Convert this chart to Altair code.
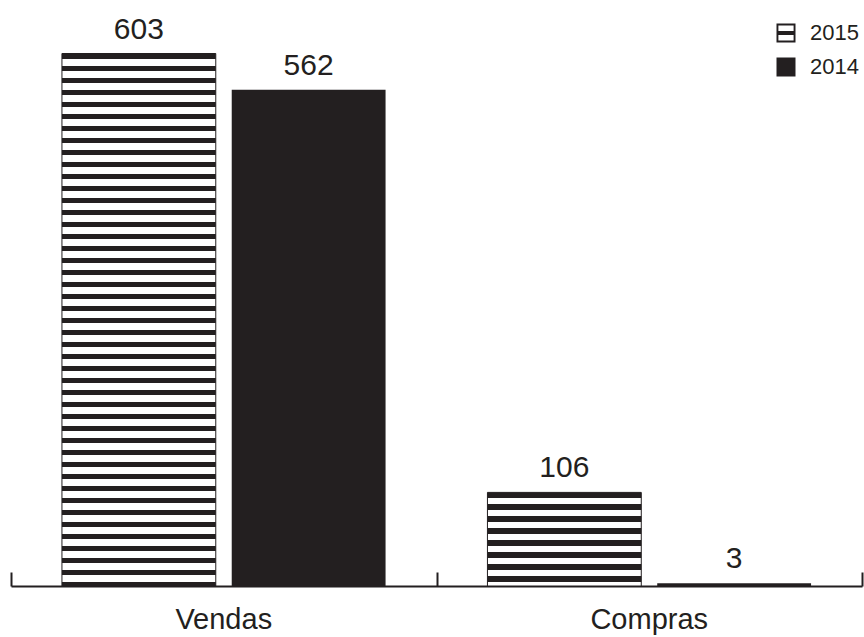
import altair as alt
import pandas as pd

# Valores por categoria e ano
categorias = ["Vendas", "Vendas", "Compras", "Compras"]
anos = ["2015", "2014", "2015", "2014"]
valores = [603, 562, 106, 3]

ordem_categorias = ["Vendas", "Compras"]
ordem_anos = ["2015", "2014"]

df = pd.DataFrame({"Categoria": categorias, "Ano": anos, "Valor": valores})

INK = "#231f20"
FONT = "Liberation Sans"
W, H = 851, 574
Y_MAX = 650
PX_PER_UNIT = H / Y_MAX

# legend symbol for the hatched series: framed square with a thick middle bar
HATCH_SYMBOL = (
    "M-1,-1L1,-1L1,1L-1,1Z"
    "M-0.8,-0.8L-0.8,-0.22L0.8,-0.22L0.8,-0.8Z"
    "M-0.8,0.22L-0.8,0.8L0.8,0.8L0.8,0.22Z"
)


def hatch(value, period=12.0, ink=5.5):
    """Horizontal stripe fill (fixed pixel period) for a bar of the given value."""
    h = value * PX_PER_UNIT
    stops = []
    k = 0
    while k * period < h:
        a = k * period / h
        b = min((k * period + ink) / h, 1.0)
        c = min((k + 1) * period / h, 1.0)
        stops += [
            alt.GradientStop(offset=a, color=INK),
            alt.GradientStop(offset=b, color=INK),
            alt.GradientStop(offset=b, color="white"),
            alt.GradientStop(offset=c, color="white"),
        ]
        k += 1
    return alt.LinearGradient(gradient="linear", stops=stops, x1=0, y1=0, x2=0, y2=1)


x_scale = alt.Scale(domain=ordem_categorias, paddingInner=0, paddingOuter=0)
off_scale = alt.Scale(domain=ordem_anos, paddingInner=0.094, paddingOuter=0.3)
y_enc = alt.Y("Valor:Q", scale=alt.Scale(domain=[0, Y_MAX]), axis=None)
off_enc = alt.XOffset("Ano:N", scale=off_scale)

bottom_axis = alt.Axis(
    title=None, labelAngle=0, labelFontSize=29, labelFont=FONT, labelColor=INK,
    labelPadding=19, ticks=False, grid=False, domainColor=INK, domainWidth=2,
)
tick_axis = alt.Axis(
    orient="top", offset=-H, title=None, labels=False, domain=False, grid=False,
    ticks=True, tickBand="extent", tickSize=14, tickWidth=2, tickColor=INK,
)

base = alt.Chart(df)

solid = base.transform_filter(alt.datum.Ano == "2014").mark_bar(
    color=INK
).encode(
    x=alt.X("Categoria:N", scale=x_scale, axis=bottom_axis),
    xOffset=off_enc,
    y=y_enc,
)

hatched_layers = []
for cat in ordem_categorias:
    v = df[(df.Categoria == cat) & (df.Ano == "2015")].Valor.iloc[0]
    hatched_layers.append(
        base.transform_filter(
            (alt.datum.Ano == "2015") & (alt.datum.Categoria == cat)
        ).mark_bar(fill=hatch(v), stroke=INK, strokeWidth=1).encode(
            x=alt.X("Categoria:N", scale=x_scale, axis=None),
            xOffset=off_enc,
            y=y_enc,
        )
    )

labels = base.mark_text(
    dy=-15, baseline="alphabetic", fontSize=30, font=FONT, color=INK
).encode(
    x=alt.X("Categoria:N", scale=x_scale, axis=tick_axis),
    xOffset=off_enc,
    y=y_enc,
    text=alt.Text("Valor:Q"),
)

legend_pts = base.mark_point(filled=True, color=INK, opacity=0, size=361).encode(
    x=alt.X("Categoria:N", scale=x_scale, axis=None),
    xOffset=off_enc,
    y=y_enc,
    shape=alt.Shape(
        "Ano:N",
        scale=alt.Scale(domain=ordem_anos, range=[HATCH_SYMBOL, "square"]),
        legend=alt.Legend(
            title=None, orient="none", legendX=764, legendY=10, padding=0,
            symbolSize=361, symbolFillColor=INK, symbolStrokeWidth=0,
            symbolOpacity=1, labelFontSize=22, labelFont=FONT, labelColor=INK,
            labelOffset=13, rowPadding=12,
        ),
    ),
)

chart = alt.layer(solid, *hatched_layers, labels, legend_pts).resolve_axis(
    x="independent"
).properties(
    width=W,
    height=H,
    padding={"left": 11, "top": 12, "right": 2, "bottom": 51},
    autosize=alt.AutoSizeParams(type="none"),
    background="white",
).configure_view(stroke=None)

chart.save("out.html", embed_options={"renderer": "svg", "actions": False})
